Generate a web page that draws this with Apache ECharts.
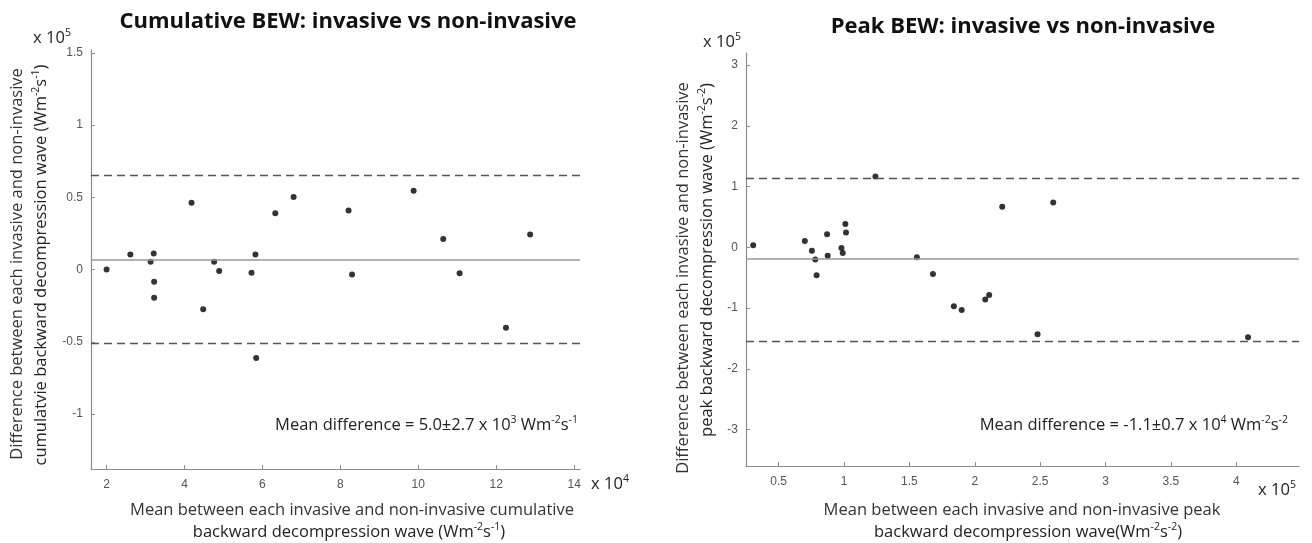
<!DOCTYPE html>
<html>
<head>
<meta charset="utf-8">
<style>
  html, body { margin: 0; padding: 0; background: #fff; }
  #main { width: 1312px; height: 543px; }
</style>
<script src="https://cdn.jsdelivr.net/npm/echarts@6/dist/echarts.min.js"></script>
</head>
<body>
<div id="main"></div>
<script>
// cumulative BEW (x in 1e4, y in 1e5)
const cumMean = [2.0, 2.61, 3.13, 3.21, 3.22, 3.22, 4.18, 4.48, 4.76, 4.89, 5.72, 5.82, 5.84, 6.33, 6.80, 8.21, 8.30, 9.88, 10.64, 11.06, 12.25, 12.87]
const cumDiff = [0.0, 0.105, 0.054, 0.112, -0.084, -0.194, 0.463, -0.275, 0.054, -0.01, -0.022, 0.105, -0.612, 0.39, 0.502, 0.41, -0.033, 0.546, 0.212, -0.026, -0.403, 0.243]
const cumLines = { mean: 0.07, upper: 0.645, lower: -0.505 }
const cumXTicks = [2, 4, 6, 8, 10, 12, 14]
const cumYTicks = [-1, -0.5, 0, 0.5, 1, 1.5]

// peak BEW (x in 1e5, y in 1e5)
const peakMean = [0.305, 0.70, 0.754, 0.78, 0.79, 0.87, 0.875, 0.98, 0.99, 1.01, 1.015, 1.24, 1.557, 1.68, 1.84, 1.90, 2.08, 2.11, 2.21, 2.48, 2.60, 4.09]
const peakDiff = [0.033, 0.105, -0.054, -0.20, -0.46, 0.215, -0.137, -0.01, -0.093, 0.386, 0.243, 1.167, -0.165, -0.44, -0.97, -1.03, -0.86, -0.785, 0.667, -1.43, 0.737, -1.48]
const peakLines = { mean: -0.19, upper: 1.13, lower: -1.55 }
const peakXTicks = [0.5, 1, 1.5, 2, 2.5, 3, 3.5, 4]
const peakYTicks = [-3, -2, -1, 0, 1, 2, 3]

const pairs = (xs, ys) => xs.map((x, i) => [x, ys[i]])

const FONT = 'Open Sans'
const FS = 16.5
const sup = { fontSize: 10.5, fontFamily: FONT, verticalAlign: 'top', lineHeight: 20, fill: '#222' }

function axis (idx, min, max, ticks, margin) {
  return {
    type: 'value', gridIndex: idx, min: min, max: max,
    axisLine: { show: true, onZero: false, lineStyle: { color: '#8c8c8c', width: 1.2 } },
    axisTick: { show: true, inside: true, length: 4, customValues: ticks, lineStyle: { color: '#8c8c8c' } },
    axisLabel: { customValues: ticks, color: '#555', fontSize: 12, fontFamily: 'Liberation Sans', margin: margin },
    splitLine: { show: false }
  }
}
function scatter (idx, data, lines) {
  return {
    type: 'scatter', xAxisIndex: idx, yAxisIndex: idx,
    data: data, symbolSize: 6,
    itemStyle: { color: '#000' },
    markLine: {
      silent: true, symbol: 'none', label: { show: false },
      data: [
        { yAxis: lines.mean, lineStyle: { type: 'solid', color: '#999', width: 1.6 } },
        { yAxis: lines.upper, lineStyle: { type: [8, 5], color: '#555', width: 1.4 } },
        { yAxis: lines.lower, lineStyle: { type: [8, 5], color: '#555', width: 1.4 } }
      ]
    }
  }
}
function txt (x, y, text, o) {
  return {
    type: 'text', x: x, y: y, rotation: (o && o.rot) || 0,
    style: Object.assign({
      text: text, fontFamily: FONT, fontSize: FS, fill: '#222',
      align: 'center', verticalAlign: 'middle', lineHeight: 20,
      rich: { n: { fontSize: FS, fontFamily: FONT, lineHeight: 20, fill: '#222' }, s: sup }
    }, (o && o.style) || {})
  }
}

const chart = echarts.init(document.getElementById('main'))
chart.setOption({
  animation: false,
  grid: [
    { left: 91, top: 50, width: 489, height: 419 },
    { left: 746, top: 53, width: 553, height: 413 }
  ],
  xAxis: [axis(0, 1.6, 14.15, cumXTicks, 10), axis(1, 0.25, 4.48, peakXTicks, 10)],
  yAxis: [axis(0, -1.38, 1.52, cumYTicks, 8), axis(1, -3.6, 3.2, peakYTicks, 8)],
  series: [scatter(0, pairs(cumMean, cumDiff), cumLines), scatter(1, pairs(peakMean, peakDiff), peakLines)],
  graphic: [
    txt(348, 22, 'Cumulative BEW: invasive vs non-invasive', { style: { fontSize: 22, fontWeight: 'bold', fill: '#111' } }),
    txt(1023, 27, 'Peak BEW: invasive vs non-invasive', { style: { fontSize: 22, fontWeight: 'bold', fill: '#111' } }),
    txt(52, 38, '{n|x 10}{s|5}'),
    txt(722, 42, '{n|x 10}{s|5}'),
    txt(610, 484, '{n|x 10}{s|4}'),
    txt(1277, 490, '{n|x 10}{s|5}'),
    txt(578, 425, '{n|Mean difference = 5.0±2.7 x 10}{s|3}{n| Wm}{s|-2}{n|s}{s|-1}', { style: { align: 'right' } }),
    txt(1288, 425, '{n|Mean difference = -1.1±0.7 x 10}{s|4}{n| Wm}{s|-2}{n|s}{s|-2}', { style: { align: 'right' } }),
    txt(352, 510, 'Mean between each invasive and non-invasive cumulative', { style: { fill: '#333' } }),
    txt(349, 532, '{n|backward decompression wave (Wm}{s|-2}{n|s}{s|-1}{n|)}', { style: { fill: '#333' } }),
    txt(1022, 510, 'Mean between each invasive and non-invasive peak', { style: { fill: '#333' } }),
    txt(1028, 532, '{n|backward decompression wave(Wm}{s|-2}{n|s}{s|-2}{n|)}', { style: { fill: '#333' } }),
    txt(17, 264, 'Difference between each invasive and non-invasive', { rot: Math.PI / 2, style: { fill: '#333' } }),
    txt(41, 265, '{n|cumulatvie backward decompression wave (Wm}{s|-2}{n|s}{s|-1}{n|)}', { rot: Math.PI / 2, style: { fill: '#333' } }),
    txt(683, 278, 'Difference between each invasive and non-invasive', { rot: Math.PI / 2, style: { fill: '#333' } }),
    txt(707, 260, '{n|peak backward decompression wave (Wm}{s|-2}{n|s}{s|-2}{n|)}', { rot: Math.PI / 2, style: { fill: '#333' } })
  ]
})
</script>
</body>
</html>
